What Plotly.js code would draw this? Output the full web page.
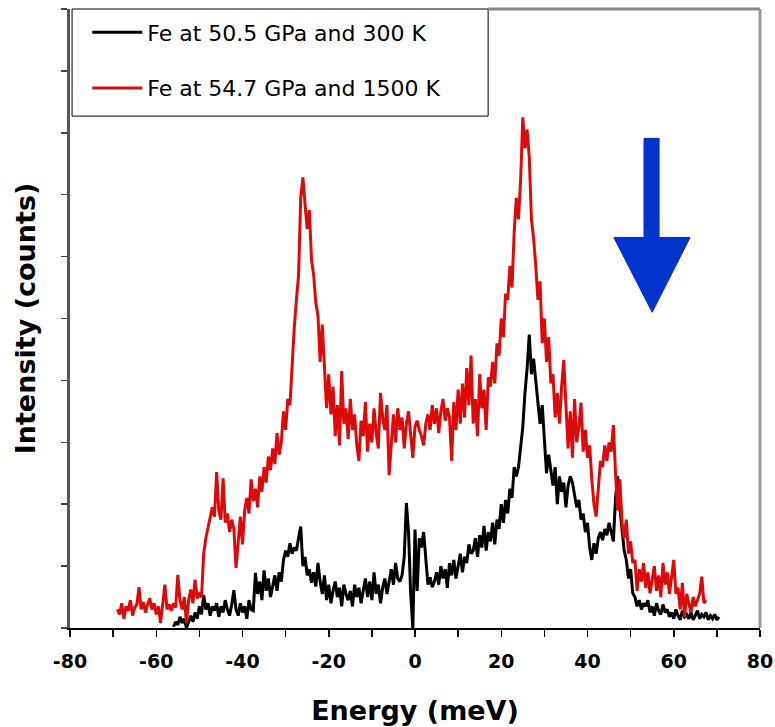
<!DOCTYPE html>
<html>
<head>
<meta charset="utf-8">
<script src="https://cdn.plot.ly/plotly-3.0.1.min.js"></script>
<style>
html,body{margin:0;padding:0;background:#fff;}
#chart{width:775px;height:727px;}
</style>
</head>
<body>
<div id="chart"></div>
<script>
// ---- Data ----
const blackName = "Fe at 50.5 GPa and 300 K";
const redName = "Fe at 54.7 GPa and 1500 K";
const xTitle = "Energy (meV)";
const yTitle = "Intensity (counts)";

// energy grid: first value and step (meV)
const blackStart = -56;
const redStart = -69;
const energyStep = 0.5;

const blackCounts = [
  0.02,0.10,0.05,0.18,0.08,0.15,0.00,0.12,0.20,0.10,
  0.25,0.15,0.35,0.22,0.53,0.30,0.40,0.20,0.35,0.28,
  0.40,0.18,0.35,0.25,0.45,0.30,0.20,0.38,0.61,0.30,
  0.20,0.40,0.25,0.35,0.15,0.45,0.30,0.28,0.89,0.55,
  0.75,0.45,0.93,0.60,0.80,0.50,0.70,0.85,0.60,0.90,
  0.75,1.10,1.25,1.15,1.37,1.20,1.30,1.25,1.45,1.64,
  1.00,1.15,0.85,0.95,0.73,0.90,0.67,1.05,0.75,0.55,
  0.85,0.45,0.70,0.40,0.60,0.75,0.50,0.65,0.35,0.70,
  0.55,0.45,0.60,0.35,0.70,0.50,0.65,0.40,0.60,0.80,
  0.50,0.75,0.45,0.90,0.55,0.70,0.40,0.65,0.80,0.55,
  0.75,0.95,0.70,1.05,0.80,0.75,0.85,1.15,2.02,1.55,
  0.55,0.00,1.59,0.60,1.45,1.30,1.55,1.05,0.70,0.82,
  0.66,0.75,0.90,0.70,1.00,0.80,0.95,0.65,1.05,0.85,
  1.10,0.80,1.00,1.20,0.90,1.15,1.05,1.35,1.20,1.25,
  1.45,1.15,1.50,1.30,1.65,1.25,1.55,1.40,1.70,1.35,
  1.75,1.60,2.00,1.70,2.07,1.85,2.25,2.10,2.60,2.45,
  2.60,2.95,3.25,3.80,4.20,4.74,4.10,4.35,4.00,3.70,
  3.30,3.60,2.95,2.50,2.80,2.55,2.30,2.60,2.00,2.45,
  2.20,2.35,1.95,2.30,2.45,2.35,2.15,1.95,2.07,1.75,
  1.85,1.55,1.70,1.30,1.10,1.37,1.20,1.45,1.55,1.42,
  1.60,1.50,1.70,1.55,1.40,2.10,2.45,1.95,1.65,1.25,
  1.10,0.80,0.95,0.56,0.50,0.35,0.45,0.30,0.40,0.35,
  0.45,0.25,0.35,0.20,0.40,0.28,0.22,0.38,0.25,0.30,
  0.18,0.25,0.15,0.30,0.20,0.13,0.28,0.18,0.22,0.15,
  0.25,0.13,0.20,0.28,0.15,0.22,0.18,0.25,0.13,0.20,
  0.15,0.22,0.13,0.18
];

const redCounts = [
  0.30,0.22,0.40,0.15,0.35,0.28,0.45,0.20,0.33,0.38,
  0.66,0.30,0.42,0.25,0.38,0.48,0.30,0.40,0.22,0.35,
  0.08,0.42,0.70,0.30,0.38,0.28,0.40,0.33,0.86,0.45,
  0.30,0.50,0.08,0.45,0.62,0.40,0.78,0.48,0.55,0.50,
  1.20,1.45,1.63,1.78,1.95,1.80,2.52,1.90,1.75,2.42,
  1.70,1.85,1.55,1.75,1.60,0.97,1.45,1.80,1.35,1.90,
  2.10,1.85,2.40,2.05,2.25,1.95,2.45,2.20,2.60,2.35,
  2.77,2.55,2.90,2.65,3.15,2.80,3.00,3.50,3.20,3.70,
  3.60,4.30,4.85,5.30,5.70,6.95,7.28,6.85,6.45,6.75,
  5.95,5.70,5.25,5.05,4.30,4.90,4.15,3.55,4.10,3.45,
  3.90,3.10,3.60,2.95,4.15,3.30,3.55,3.05,3.70,3.20,
  3.45,2.95,2.70,3.35,3.10,3.65,2.85,3.30,3.00,3.55,
  3.15,2.90,3.80,3.40,3.20,3.60,2.47,3.05,3.45,3.00,
  3.55,3.20,3.40,2.90,3.30,3.50,3.15,2.75,3.25,3.35,
  3.20,3.10,2.95,3.30,3.45,3.20,3.60,3.30,3.55,3.15,
  3.50,3.70,3.35,3.55,3.40,2.70,3.65,3.20,3.85,3.30,
  3.95,3.40,4.20,3.60,4.40,3.30,3.70,3.10,4.10,3.55,
  3.85,3.20,4.05,3.90,4.30,3.95,4.60,4.40,5.00,4.70,
  5.40,5.30,5.85,5.50,6.40,6.95,6.60,7.25,8.25,7.75,
  8.05,7.60,6.60,6.30,5.85,5.30,5.60,4.60,5.00,4.30,
  4.70,3.95,4.10,3.40,3.80,3.30,3.90,4.33,3.60,2.90,
  3.50,2.75,3.70,3.00,3.25,3.64,2.85,3.20,2.75,2.95,
  2.40,2.00,1.80,2.25,2.70,2.60,2.95,2.70,3.00,2.85,
  3.28,2.50,1.90,2.40,1.70,1.45,1.75,1.20,1.40,1.05,
  1.10,0.60,0.95,0.75,1.05,0.65,0.90,0.56,0.80,1.00,
  0.60,0.85,0.50,1.05,0.70,0.90,0.55,0.80,1.10,0.55,
  0.65,0.30,0.73,0.18,0.55,0.40,0.25,0.50,0.35,0.45,
  0.55,0.83,0.40,0.45
];

const xTickVals = [-80,-70,-60,-50,-40,-30,-20,-10,0,10,20,30,40,50,60,70,80];
const xTickText = ["-80","","-60","","-40","","-20","","0","","20","","40","","60","","80"];
const yTickVals = [0,1,2,3,4,5,6,7,8,9,10];
const xRange = [-80, 80];
const yRange = [0, 10];

// ---- Chart ----
const titleFont = {family: "DejaVu Sans, Arial, sans-serif", size: 27, color: "#000", weight: 700};

const traces = [
  {
    type: "scatter", mode: "lines", name: blackName, legendgroup: "g1",
    x0: blackStart, dx: energyStep, y: blackCounts,
    line: {color: "#000000", width: 3}
  },
  {
    type: "scatter", mode: "lines", name: redName, legendgroup: "g2",
    x0: redStart, dx: energyStep, y: redCounts,
    line: {color: "#dd0a0a", width: 3}
  }
];

const layout = {
  width: 775, height: 727,
  margin: {l: 70, r: 15, t: 9, b: 99, pad: 0},
  paper_bgcolor: "#ffffff", plot_bgcolor: "#ffffff",
  showlegend: true,
  legend: {
    x: 0.025, y: 0.996, xanchor: "left", yanchor: "top",
    bgcolor: "rgba(0,0,0,0)", borderwidth: 0,
    font: {family: "DejaVu Sans, Arial, sans-serif", size: 22, color: "#000"},
    itemwidth: 50, tracegroupgap: 24, traceorder: "grouped"
  },
  xaxis: {
    range: xRange, tickmode: "array", tickvals: xTickVals, ticktext: xTickText,
    ticks: "outside", ticklen: 7, tickwidth: 1.5, tickcolor: "#000",
    showline: true, linecolor: "#000", linewidth: 2,
    showgrid: false, zeroline: false,
    ticklabelstandoff: 8,
    tickfont: {family: "DejaVu Sans, Arial, sans-serif", size: 19, color: "#000", weight: 700},
    title: {text: xTitle, font: titleFont, standoff: 30}
  },
  yaxis: {
    range: yRange, tickmode: "array", tickvals: yTickVals,
    ticks: "outside", ticklen: 6, tickwidth: 1.5, tickcolor: "#444",
    showticklabels: false,
    showline: true, linecolor: "#555", linewidth: 3,
    showgrid: false, zeroline: false,
    title: {text: yTitle, font: titleFont, standoff: 18}
  },
  shapes: [
    // legend frame
    {type: "rect", xref: "paper", yref: "paper", x0: 0.003, x1: 0.606, y0: 0.827, y1: 1.0,
     line: {color: "#000", width: 1}, fillcolor: "#ffffff", layer: "above"},
    // top and right frame
    {type: "line", xref: "paper", yref: "paper", x0: 0.606, x1: 1, y0: 1, y1: 1,
     line: {color: "#888", width: 3}},
    {type: "line", xref: "paper", yref: "paper", x0: 1, x1: 1, y0: 0, y1: 1,
     line: {color: "#999", width: 3}},
    // blue arrow
    {type: "path", xref: "x", yref: "y",
     path: "M53.1,7.91 L56.6,7.91 L56.6,6.31 L63.8,6.31 L55.0,5.10 L46.1,6.31 L53.1,6.31 Z",
     fillcolor: "#0033cc", line: {color: "#0033cc", width: 1}, layer: "above"}
  ]
};

Plotly.newPlot("chart", traces, layout, {displayModeBar: false, staticPlot: true});
</script>
</body>
</html>
